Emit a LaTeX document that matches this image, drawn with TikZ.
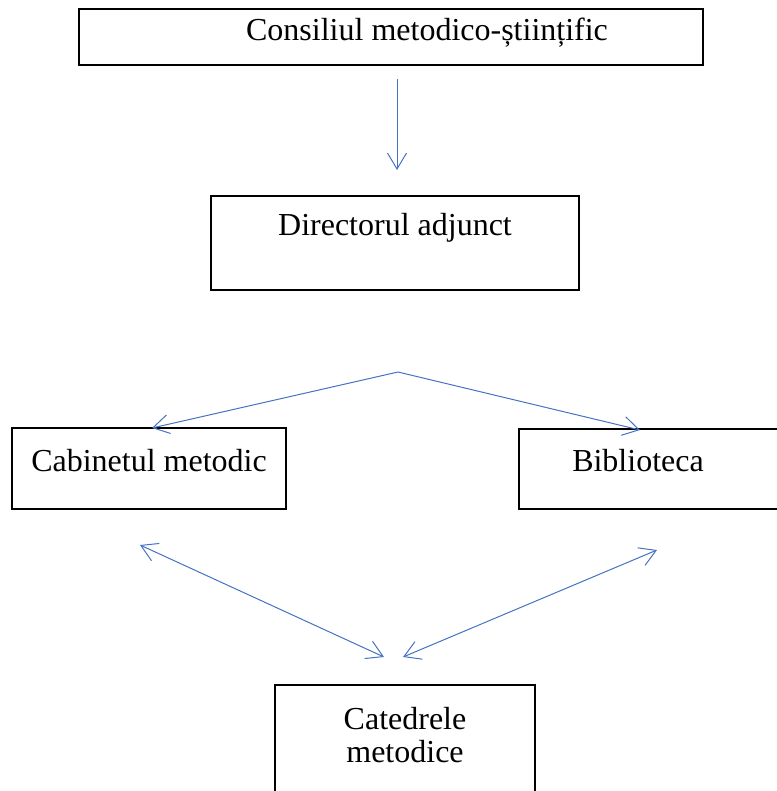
\documentclass[tikz,border=0pt]{standalone}
\usepackage{fontspec}
\setmainfont{Liberation Serif}
\usetikzlibrary{arrows.meta}
\definecolor{arrowblue}{HTML}{4472C4}
\tikzset{
  barb/.tip={Straight Barb[length=16pt,width=19pt]},
  box/.style={draw, line width=2.2pt, inner sep=0pt},
  lbl/.style={anchor=base, inner sep=0pt, font=\fontsize{32}{36}\selectfont},
  link/.style={draw=arrowblue, line width=1pt},
}
\begin{document}
\begin{tikzpicture}[x=1pt,y=-1pt]
    \useasboundingbox (0,0) rectangle (776,791);
    \node[box, minimum width=624pt, minimum height=56pt] (consiliu) at (391,37) {};
    \node[box, minimum width=368pt, minimum height=94pt] (director) at (395,243) {};
    \node[box, minimum width=274pt, minimum height=81pt] (cabinet) at (149,468.5) {};
    \node[box, minimum width=261pt, minimum height=80pt] (biblioteca) at (649.5,469) {};
    \node[box, minimum width=260pt, minimum height=115pt] (catedre) at (405,742.5) {};

    \node[lbl] (consiliuTxt) at (427,41) {Consiliul metodico-științific};
    \node[lbl] (directorTxt) at (395,236) {Directorul adjunct};
    \node[lbl] (cabinetTxt) at (149,471) {Cabinetul metodic};
    \node[lbl] (bibliotecaTxt) at (638,471) {Biblioteca};
    \node[lbl] (catedreTxtA) at (405,729) {Catedrele};
    \node[lbl] (catedreTxtB) at (405,762) {metodice};

    \coordinate (downTop) at (397,79);
    \coordinate (downTip) at (397,170);
    \coordinate (fork) at (398,372);
    \coordinate (cabTip) at (152,428);
    \coordinate (bibTip) at (640,430);
    \coordinate (cabEnd) at (140,545);
    \coordinate (catL) at (384,657);
    \coordinate (bibEnd) at (657,550);
    \coordinate (catR) at (403,657);

    \draw[link, -barb] (downTop) -- (downTip);
    \draw[link, -barb] (fork) -- (cabTip);
    \draw[link, -barb] (fork) -- (bibTip);
    \draw[link, barb-barb] (cabEnd) -- (catL);
    \draw[link, barb-barb] (bibEnd) -- (catR);
\end{tikzpicture}
\end{document}
